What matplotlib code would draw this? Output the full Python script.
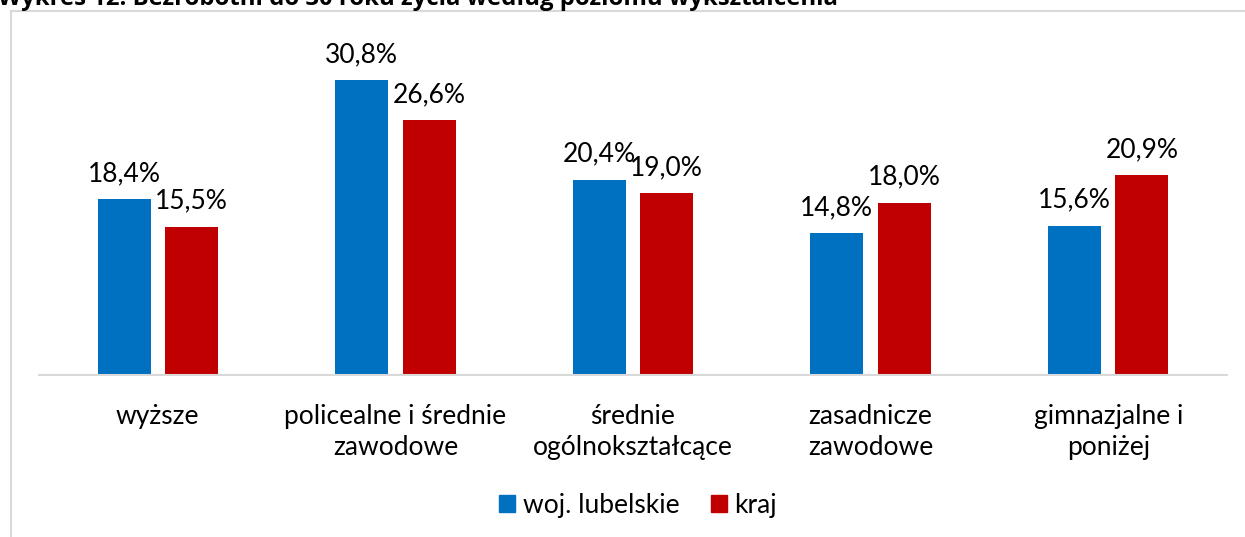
import matplotlib
matplotlib.use("Agg")
import matplotlib.pyplot as plt
import numpy as np
from matplotlib.lines import Line2D
from matplotlib.patches import Patch

categories = ["wyższe", "policealne i średnie\nzawodowe", "średnie\nogólnokształcące",
              "zasadnicze\nzawodowe", "gimnazjalne i\nponiżej"]
lubelskie = [18.4, 30.8, 20.4, 14.8, 15.6]
kraj = [15.5, 26.6, 19.0, 18.0, 20.9]
series_names = ["woj. lubelskie", "kraj"]
title = "Wykres 12. Bezrobotni do 30 roku życia według poziomu wykształcenia"

BLUE = "#0070C0"
RED = "#C00000"
FONT = ["Lato", "DejaVu Sans"]
plt.rcParams['font.family'] = FONT

W, H = 1245, 537
fig = plt.figure(figsize=(W / 100, H / 100), dpi=100)

def fx(px):
    return px / W

def fy(py):
    return 1 - py / H

# outer chart frame (cropped)
fig.add_artist(Line2D([fx(10.5), fx(10.5)], [fy(10.5), fy(540)], color="#d9d9d9", lw=1.5))
fig.add_artist(Line2D([fx(10.5), fx(1250)], [fy(10.5), fy(10.5)], color="#d9d9d9", lw=1.5))

# title (mostly cropped at top, as in the reference)
fig.text(fx(-2), fy(5), title, fontsize=17.2, fontweight="bold", ha="left", va="baseline",
         color="black", family=["Open Sans", "DejaVu Sans"])

ax = fig.add_axes([fx(39), fy(375), fx(1227) - fx(39), fy(40) - fy(375)])
x = np.arange(len(categories))
bw = 0.223
off = 0.142
b1 = ax.bar(x - off, lubelskie, bw, color=BLUE, label=series_names[0])
b2 = ax.bar(x + off, kraj, bw, color=RED, label=series_names[1])
ax.set_xlim(-0.5, len(categories) - 0.5)
ax.set_ylim(0, 35)

for bars, vals in ((b1, lubelskie), (b2, kraj)):
    for r, v in zip(bars, vals):
        ax.annotate(f"{v:.1f}%".replace(".", ","), (r.get_x() + r.get_width() / 2, v),
                    xytext=(0, 13), textcoords="offset points", ha="center", va="baseline",
                    fontsize=19, color="#000000")

for s in ["top", "right", "left"]:
    ax.spines[s].set_visible(False)
ax.spines["bottom"].set_color("#d9d9d9")
ax.spines["bottom"].set_linewidth(1.5)
ax.set_yticks([])
ax.set_xticks(x)
ax.set_xticklabels(categories, fontsize=19, linespacing=1.3)
ax.tick_params(axis="x", length=0, pad=21)

handles = [Patch(color=BLUE), Patch(color=RED)]
fig.legend(handles, series_names, loc="center", bbox_to_anchor=(fx(638), fy(505)), ncol=2,
           frameon=False, fontsize=19, handlelength=0.6, handleheight=0.6,
           handletextpad=0.3, columnspacing=1.2)

fig.savefig("out.png", dpi=100)
